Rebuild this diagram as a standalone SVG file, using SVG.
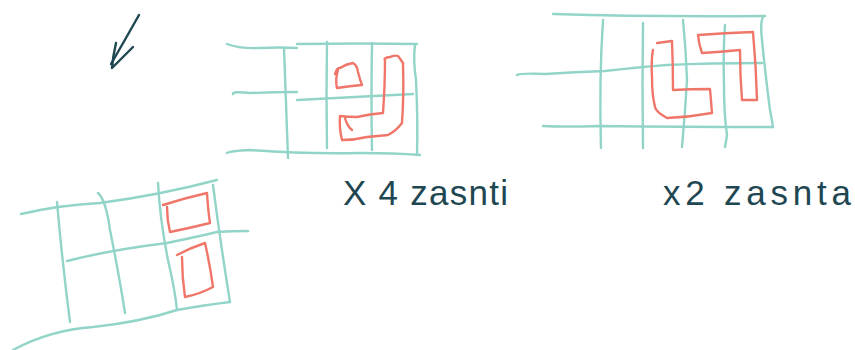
<svg xmlns="http://www.w3.org/2000/svg" width="855" height="350" viewBox="0 0 855 350">
<style>
.g{fill:none;stroke:#92d5c8;stroke-width:2.4;stroke-linecap:round;stroke-linejoin:round}
.r{fill:none;stroke:#f0766a;stroke-width:2.4;stroke-linecap:round;stroke-linejoin:round}
.k{fill:none;stroke:#1f4752;stroke-width:2.4;stroke-linecap:round;stroke-linejoin:round}
.t{font-family:"Liberation Sans",Arial,sans-serif;fill:#1f4752;font-size:35px}
</style>
<rect width="855" height="350" fill="#ffffff"/>
<!-- arrow -->
<g id="arrow">
<path class="k" d="M139,15 Q125,40 111,64"/>
<path class="k" d="M116,43 Q113,56 112,68 Q122,58 133,47"/>
</g>
<!-- middle grid -->
<g id="grid-middle">
<path class="g" d="M227,44 Q240,49 260,48 Q280,47 297,48"/>
<path class="g" d="M297,44 Q360,43 417,44"/>
<path class="g" d="M233,94 Q232,91 250,93 Q275,92 297,92"/>
<path class="g" d="M297,100 Q350,97 413,94"/>
<path class="g" d="M227,153 Q230,151 250,150 Q300,154 360,153 Q395,153 420,155"/>
<path class="g" d="M284,48 Q286,100 288,158"/>
<path class="g" d="M327,42 Q326,95 327,148"/>
<path class="g" d="M372,43 Q371,95 372,150"/>
<path class="g" d="M415,45 Q413,60 416,80 Q418,120 417,155"/>
<path class="r" d="M335,74 Q337,67 340,68 Q346,64 353,63 Q357,65 358,72 Q360,80 362,85 Q350,86 337,88 Q335,80 338,70"/>
<path class="r" d="M385,60 Q383,58 390,57 Q396,55 398,56 Q401,60 403,63 Q404,95 402,123 Q396,131 388,135 Q378,136 367,137 Q355,140 342,140 Q339,128 340,116 Q348,117 357,117 Q370,114 383,113 Q385,85 385,60"/>
<path class="r" d="M345,118 Q347,126 352,130"/>
</g>
<!-- right grid -->
<g id="grid-right">
<path class="g" d="M553,14 Q650,17 765,16"/>
<path class="g" d="M517,75 Q520,73 545,74 Q575,72 605,71 Q640,67 667,65 Q710,63 762,63"/>
<path class="g" d="M543,126 Q560,127 600,126 Q690,127 773,127"/>
<path class="g" d="M763,17 Q760,22 762,40 Q766,80 770,110 Q772,120 773,127"/>
<path class="g" d="M603,20 Q599,80 601,148"/>
<path class="g" d="M643,23 Q642,85 643,148"/>
<path class="g" d="M683,20 Q686,50 687,80 Q685,115 682,147"/>
<path class="g" d="M725,25 Q723,50 724,85 Q724,115 727,135 Q726,142 725,147"/>
<path class="r" d="M657,43 Q665,42 672,41 Q673,65 673,90 Q690,89 710,89 Q711,100 712,113 Q690,117 667,118 Q656,112 655,107 Q652,95 652,77 Q651,60 653,50"/>
<path class="r" d="M698,35 Q725,33 753,32 Q756,65 757,100 Q749,100 742,100 Q740,75 740,50 Q720,52 702,53 Q699,45 698,35"/>
</g>
<!-- bottom-left grid -->
<g id="grid-left">
<path class="g" d="M21,214 Q60,205 100,203 Q160,195 217,180"/>
<path class="g" d="M67,261 Q110,250 167,243 Q200,236 217,232 Q235,231 248,231"/>
<path class="g" d="M13,350 Q50,330 93,327 Q140,322 177,310 Q205,305 230,302"/>
<path class="g" d="M57,202 Q62,260 70,322"/>
<path class="g" d="M98,193 Q106,200 110,230 Q120,280 125,313"/>
<path class="g" d="M158,183 Q160,220 168,260 Q175,290 177,310"/>
<path class="g" d="M213,185 Q220,240 230,302"/>
<path class="r" d="M163,205 Q185,198 207,193 Q208,210 210,223 Q190,228 170,232 Q167,220 167,207"/>
<path class="r" d="M177,255 Q190,248 205,243 Q210,265 213,287 Q200,294 185,297 Q182,277 182,257"/>
</g>
<!-- labels -->
<g id="labels">
<text class="t" x="343" y="205" textLength="165" lengthAdjust="spacing">X 4 zasnti</text>
<text class="t" x="663" y="205" textLength="188" lengthAdjust="spacing">x2 zasnta</text>
</g>
</svg>
